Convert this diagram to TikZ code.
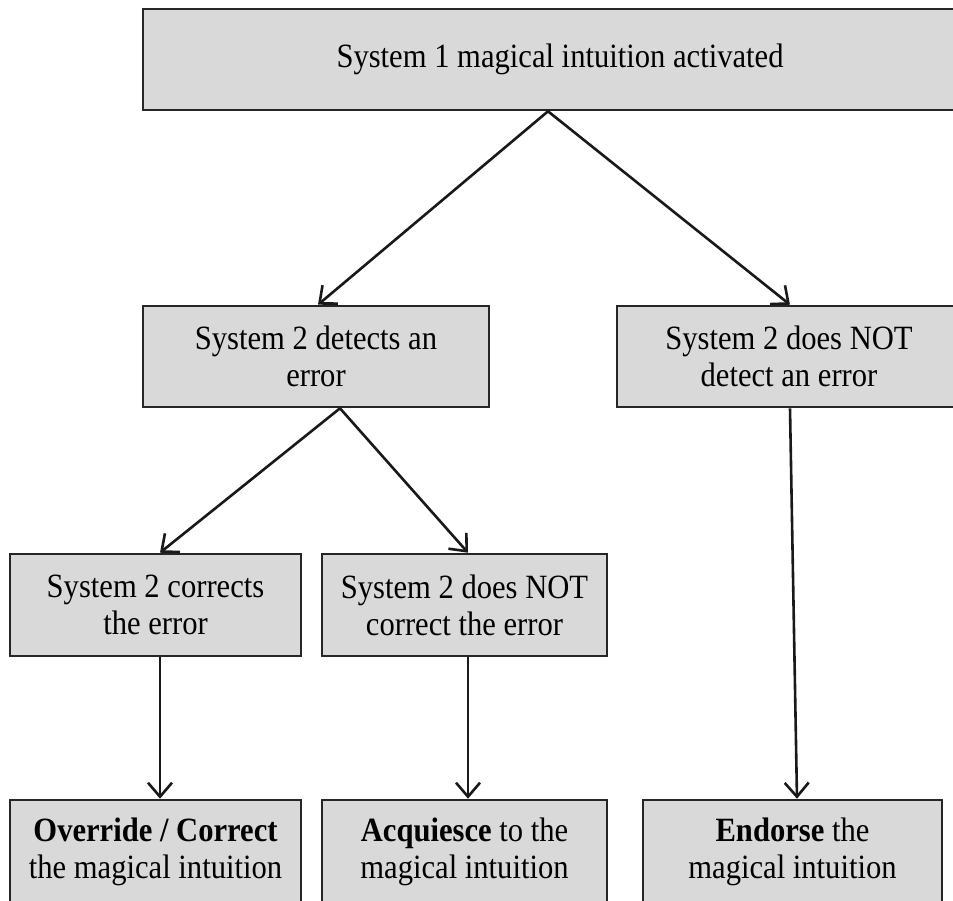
\documentclass[tikz,border=0pt]{standalone}
\usepackage{fontspec}
\setmainfont[FakeStretch=0.9]{Liberation Serif}
\usetikzlibrary{arrows.meta}
\tikzset{
  box/.style={draw=black!85, fill=boxgray, line width=2.6pt, rectangle, align=center,
    inner sep=0pt, font=\fontsize{34}{37}\selectfont},
  conn/.style={draw=black!90, line width=2.6pt, -{Straight Barb[length=14pt,width=24pt,line width=2.6pt]}}
}
\definecolor{boxgray}{HTML}{D9D9D9}
\begin{document}
\begin{tikzpicture}[x=1pt,y=-1pt]
\useasboundingbox (0,0) rectangle (953,900);
\clip (0,0) rectangle (953,900);
\fill[white] (0,0) rectangle (953,900);
% boxes: centre = midpoint of edges
\node[box, minimum width=834pt, minimum height=101pt] (top) at (560,59.5) {System 1 magical intuition activated};
\node[box, minimum width=346pt, minimum height=101pt] (midl) at (316,356.5) {System 2 detects an\\error};
\node[box, minimum width=344pt, minimum height=101pt] (midr) at (789,356.5) {System 2 does NOT\\detect an error};
\node[box, minimum width=291pt, minimum height=102pt] (lowl) at (155.5,605) {System 2 corrects\\the error};
\node[box, minimum width=285pt, minimum height=102pt] (lowm) at (464.5,605) {System 2 does NOT\\correct the error};
\node[box, minimum width=291pt, minimum height=104pt] (botl) at (155.5,852) {\textbf{Override / Correct}\\the magical intuition};
\node[box, minimum width=285pt, minimum height=104pt] (botm) at (464.5,852) {\textbf{Acquiesce} to the\\magical intuition};
\node[box, minimum width=299pt, minimum height=104pt] (botr) at (792.5,852) {\textbf{Endorse} the\\magical intuition};
% connectors
\draw[conn] ([xshift=-12pt]top.south) -- ([xshift=2pt]midl.north);
\draw[conn] ([xshift=-12pt]top.south) -- ([xshift=1pt]midr.north);
\draw[conn] ([xshift=24pt]midl.south) -- ([xshift=4.5pt]lowl.north);
\draw[conn] ([xshift=24pt]midl.south) -- ([xshift=3.5pt]lowm.north);
\draw[conn] ([xshift=4.5pt]lowl.south) -- ([xshift=4.5pt]botl.north);
\draw[conn] ([xshift=3.5pt]lowm.south) -- ([xshift=3.5pt]botm.north);
\draw[conn] ([xshift=1pt]midr.south) -- ([xshift=4.5pt]botr.north);
\end{tikzpicture}
\end{document}
